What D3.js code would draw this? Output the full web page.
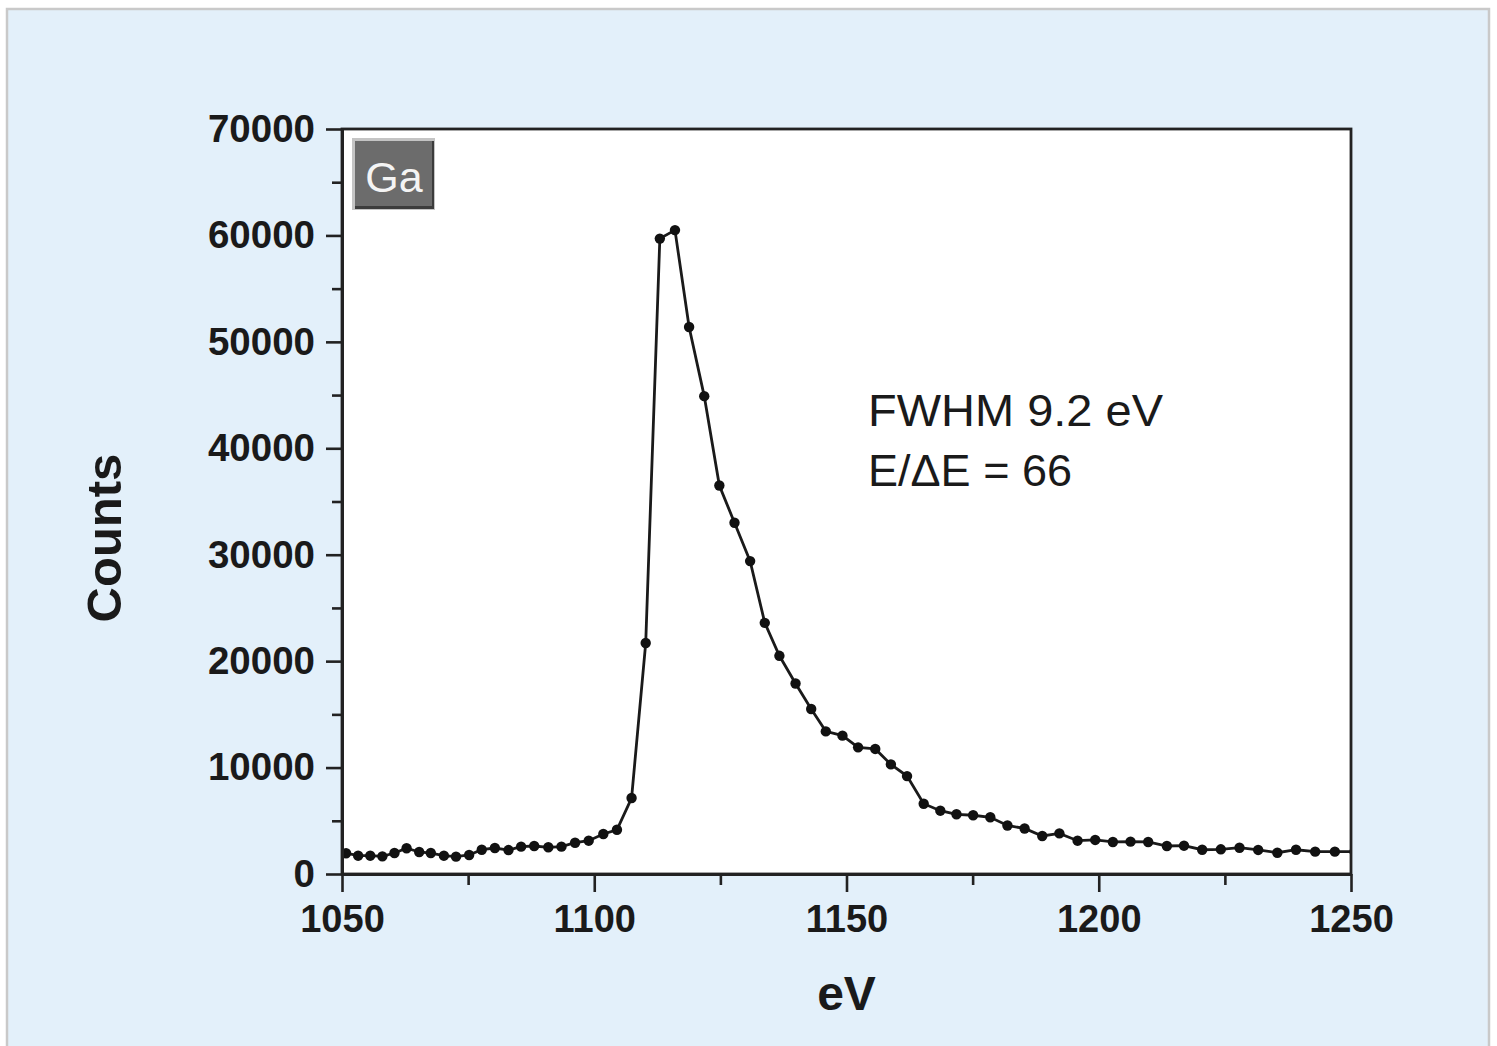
<!DOCTYPE html>
<html>
<head>
<meta charset="utf-8">
<script src="https://cdn.jsdelivr.net/npm/d3@7"></script>
<style>
    body { margin: 0; background: #ffffff; }
    svg { display: block; }
</style>
</head>
<body>
<div id="chart"></div>
<script>
// measured spectrum (Ga), energy in eV and counts
const energy = [
    1050.8, 1053.2, 1055.6, 1058.0, 1060.4, 1062.8, 1065.3, 1067.6, 1070.2, 1072.6,
    1075.2, 1077.7, 1080.3, 1083.0, 1085.5, 1088.1, 1090.9, 1093.5, 1096.2, 1098.9,
    1101.8, 1104.5, 1107.4, 1110.2, 1113.0, 1116.0, 1118.8, 1121.8, 1124.8, 1127.8,
    1130.9, 1133.8, 1136.7, 1139.9, 1143.0, 1145.9, 1149.2, 1152.3, 1155.7, 1158.8,
    1162.0, 1165.3, 1168.6, 1171.8, 1175.1, 1178.5, 1181.9, 1185.3, 1188.8, 1192.2,
    1195.8, 1199.3, 1202.8, 1206.3, 1209.8, 1213.5, 1216.9, 1220.5, 1224.2, 1227.9,
    1231.6, 1235.4, 1239.1, 1242.9, 1246.8, 1250.7
];
const counts = [
    1950, 1720, 1720, 1660, 1970, 2420, 2070, 1970, 1720, 1630,
    1790, 2280, 2440, 2250, 2570, 2630, 2510, 2570, 2940, 3130,
    3760, 4160, 7140, 21700, 59700, 60500, 51400, 44900, 36500, 33000,
    29400, 23600, 20500, 17900, 15500, 13400, 13000, 11900, 11750, 10300,
    9200, 6600, 5950, 5610, 5520, 5330, 4560, 4280, 3570, 3820,
    3130, 3200, 3010, 3040, 3010, 2630, 2660, 2280, 2320, 2470,
    2260, 2000, 2280, 2100, 2100, 2100
];

const xTicks = [1050, 1100, 1150, 1200, 1250];
const xMinorTicks = [1075, 1125, 1175, 1225];
const yTicks = [0, 10000, 20000, 30000, 40000, 50000, 60000, 70000];
const yMinorTicks = [5000, 15000, 25000, 35000, 45000, 55000, 65000];

const xLabel = "eV";
const yLabel = "Counts";
const noteLines = ["FWHM 9.2 eV", "E/\u0394E = 66"];
const noteWidths = [295, 204];
const elementTag = "Ga";

const width = 1497,
    height = 1046;
const margin = { top: 129, right: 146, bottom: 172, left: 342 };
const font = "'Liberation Sans', Arial, Helvetica, sans-serif";

const svg = d3
    .select("#chart")
    .append("svg")
    .attr("width", width)
    .attr("height", height)
    .style("font-family", font);

// light blue panel with grey frame
svg.append("rect")
    .attr("x", 7)
    .attr("y", 9)
    .attr("width", 1482)
    .attr("height", 1040)
    .attr("fill", "#e3f0fa")
    .attr("stroke", "#c9c9c9")
    .attr("stroke-width", 2.5);

const xScale = d3
    .scaleLinear()
    .domain([1050, 1250])
    .range([margin.left, width - margin.right]);
const yScale = d3
    .scaleLinear()
    .domain([0, 70000])
    .range([height - margin.bottom, margin.top]);

// plot area
svg.append("rect")
    .attr("x", xScale(1050))
    .attr("y", yScale(70000))
    .attr("width", xScale(1250) - xScale(1050))
    .attr("height", yScale(0) - yScale(70000))
    .attr("fill", "#ffffff");

svg.append("clipPath")
    .attr("id", "plotClip")
    .append("rect")
    .attr("x", xScale(1050))
    .attr("y", yScale(70000))
    .attr("width", xScale(1250) - xScale(1050))
    .attr("height", yScale(0) - yScale(70000));

const points = energy.map((e, i) => ({ e: e, c: counts[i] }));

const line = d3
    .line()
    .x((d) => xScale(d.e))
    .y((d) => yScale(d.c));

const plot = svg.append("g").attr("clip-path", "url(#plotClip)");

plot.append("path")
    .datum(points)
    .attr("fill", "none")
    .attr("stroke", "#1a1a1a")
    .attr("stroke-width", 2.8)
    .attr("d", line);

plot.selectAll(".dot")
    .data(points)
    .join("circle")
    .attr("class", "dot")
    .attr("cx", (d) => xScale(d.e))
    .attr("cy", (d) => yScale(d.c))
    .attr("r", 5.2)
    .attr("fill", "#111111");

// frame on top and right
svg.append("rect")
    .attr("x", xScale(1050))
    .attr("y", yScale(70000))
    .attr("width", xScale(1250) - xScale(1050))
    .attr("height", yScale(0) - yScale(70000))
    .attr("fill", "none")
    .attr("stroke", "#222222")
    .attr("stroke-width", 2.8);

// axes
const styleAxis = (g) => {
    g.select(".domain").attr("stroke", "#222222").attr("stroke-width", 2.8);
    g.selectAll(".tick line").attr("stroke", "#222222").attr("stroke-width", 2.6);
};

svg.append("g")
    .attr("transform", `translate(0, ${yScale(0)})`)
    .call(d3.axisBottom(xScale).tickValues(xMinorTicks).tickSize(11).tickFormat("").tickSizeOuter(0))
    .call(styleAxis);

const xAxis = svg
    .append("g")
    .attr("transform", `translate(0, ${yScale(0)})`)
    .call(
        d3
            .axisBottom(xScale)
            .tickValues(xTicks)
            .tickSize(18)
            .tickSizeOuter(0)
            .tickPadding(13)
            .tickFormat(d3.format("d"))
    )
    .call(styleAxis);

xAxis.selectAll("text")
    .attr("fill", "#1a1a1a")
    .style("font-size", "38px")
    .style("font-weight", "bold")
    .style("font-family", font);

svg.append("g")
    .attr("transform", `translate(${xScale(1050)}, 0)`)
    .call(d3.axisLeft(yScale).tickValues(yMinorTicks).tickSize(10).tickFormat("").tickSizeOuter(0))
    .call(styleAxis);

const yAxis = svg
    .append("g")
    .attr("transform", `translate(${xScale(1050)}, 0)`)
    .call(
        d3
            .axisLeft(yScale)
            .tickValues(yTicks)
            .tickSize(16)
            .tickSizeOuter(0)
            .tickPadding(11)
            .tickFormat(d3.format("d"))
    )
    .call(styleAxis);

yAxis.selectAll("text")
    .attr("fill", "#1a1a1a")
    .style("font-size", "38.5px")
    .style("font-weight", "bold")
    .style("font-family", font);

// axis titles
svg.append("text")
    .attr("x", (xScale(1050) + xScale(1250)) / 2)
    .attr("y", 1010)
    .attr("text-anchor", "middle")
    .attr("fill", "#1a1a1a")
    .style("font-size", "48px")
    .style("font-weight", "bold")
    .text(xLabel);

svg.append("text")
    .attr("transform", "translate(121, 538) rotate(-90)")
    .attr("text-anchor", "middle")
    .attr("fill", "#1a1a1a")
    .style("font-size", "49px")
    .style("font-weight", "bold")
    .text(yLabel);

// annotation
svg.append("g")
    .selectAll("text")
    .data(noteLines)
    .join("text")
    .attr("x", 868)
    .attr("y", (d, i) => 426 + i * 60)
    .attr("fill", "#1a1a1a")
    .attr("textLength", (d, i) => noteWidths[i])
    .attr("lengthAdjust", "spacingAndGlyphs")
    .style("font-size", "44px")
    .text((d) => d);

// element tag box
const tag = svg.append("g").attr("transform", "translate(352, 138)");
tag.append("rect")
    .attr("width", 83)
    .attr("height", 72)
    .attr("fill", "#c4c4c4");
tag.append("rect")
    .attr("x", 3)
    .attr("y", 3)
    .attr("width", 79)
    .attr("height", 68)
    .attr("fill", "#3c3c3c");
tag.append("rect")
    .attr("x", 3)
    .attr("y", 3)
    .attr("width", 77)
    .attr("height", 65)
    .attr("fill", "#6c6c6c");
tag.append("text")
    .attr("x", 42)
    .attr("y", 54)
    .attr("text-anchor", "middle")
    .attr("fill", "#f4f4f4")
    .style("font-size", "43px")
    .text(elementTag);
</script>
</body>
</html>
